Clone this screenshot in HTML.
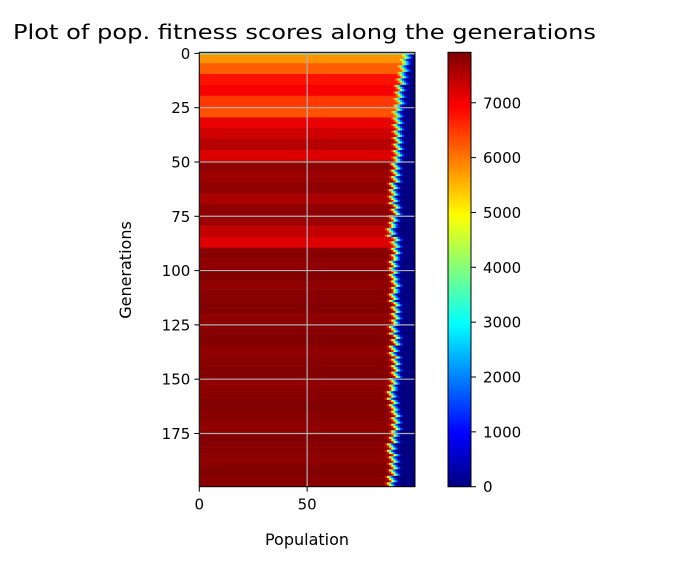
<!DOCTYPE html>
<html><head><meta charset="utf-8"><style>
body{margin:0;background:#fff;width:698px;height:568px;overflow:hidden}
text{font-family:"DejaVu Sans","Liberation Sans",sans-serif;fill:#000}
</style></head><body>
<svg id="chart" width="698" height="568" xmlns="http://www.w3.org/2000/svg">
<text x="13" y="39" font-size="20" textLength="583" lengthAdjust="spacingAndGlyphs">Plot of pop. fitness scores along the generations</text>
<g id="heat"></g>
<g id="grid"></g>
<rect x="199.3" y="52.3" width="215.7" height="434.4" fill="none" stroke="#000" stroke-width="1"/>
<g id="axes"></g>
<text x="307" y="545" font-size="16" text-anchor="middle">Population</text>
<text transform="translate(131,270) rotate(-90)" font-size="16" text-anchor="middle">Generations</text>
<g id="cbar"></g>
</svg>
<script>
// 40 blocks of 5 generations each
const blockLevels=[5800,6200,6800,7000,6500,6300,7100,7300,7500,7200,7800,7700,7800,7600,7800,7700,7400,7200,7850,7800,7900,7800,7850,7900,7800,7850,7900,7800,7850,7900,7800,7850,7900,7850,7800,7900,7850,7800,7900,7850];
const blockEdges=[99,98,97,96,96,95,95,95,95,95,94,94,93,93,94,93,92,94,94,93,93,94,93,94,94,93,94,93,94,94,93,92,93,94,94,93,92,93,93,92];
const firstRowValue=3800;
const xTicks=[0,50];
const yTicks=[0,25,50,75,100,125,150,175];
const cbTicks=[0,1000,2000,3000,4000,5000,6000,7000];
const nGen=200,nPop=100,vmin=0,vmax=7920;
const PX0=199.3,PX1=415,PY0=52.3,PY1=486.7,CBX=448,CBW=23;
const cw=(PX1-PX0)/nPop,rh=(PY1-PY0)/nGen;
const xs=c=>PX0+c*cw, ys=r=>PY0+r*rh;
const cy=v=>PY1-(v-vmin)/(vmax-vmin)*(PY1-PY0);
function jet(t){t=Math.max(0,Math.min(1,t));
 const f=x=>Math.round(255*Math.max(0,Math.min(1,1.5-Math.abs(4*t-x))));
 return `rgb(${f(3)},${f(2)},${f(1)})`;}
const col=v=>jet((v-vmin)/(vmax-vmin));
const NS="http://www.w3.org/2000/svg";
function mk(tag,attrs,parent){const e=document.createElementNS(NS,tag);for(const k in attrs)e.setAttribute(k,attrs[k]);parent.appendChild(e);return e;}
const heat=document.getElementById('heat');
for(let r=0;r<nGen;r++){
 const b=Math.floor(r/5);const lv=blockLevels[b];const ed=Math.min(nPop,blockEdges[b]+((r*7)%3-1));
 if(r===0){const e=mk('rect',{x:xs(0),y:ys(0),width:(PX1-PX0),height:rh+0.3,fill:col(firstRowValue)},heat);
  continue;}
 const tw=5,start=ed-tw;
 let e=mk('rect',{x:xs(0),y:ys(r),width:start*cw+0.3,height:rh+0.3,fill:col(lv)},heat);
 
 for(let c=start;c<ed;c++){const v=lv*(1-(c-start+0.5)/tw)**1.3;
  e=mk('rect',{x:xs(c),y:ys(r),width:cw+0.3,height:rh+0.3,fill:col(v)},heat);
  }
 e=mk('rect',{x:xs(ed),y:ys(r),width:Math.max(0,(nPop-ed)*cw),height:rh+0.3,fill:col(0)},heat);
 
}
const grid=document.getElementById('grid'),axes=document.getElementById('axes');
xTicks.forEach(t=>{const x=xs(t);
 let e=mk('line',{x1:x,x2:x,y1:PY0,y2:PY1,stroke:'#b0b0b0','stroke-width':1.2},grid);
 
 e=mk('line',{x1:x,x2:x,y1:PY1,y2:PY1+5,stroke:'#000'},axes);
 
 e=mk('text',{x:x,y:PY1+23,'font-size':15,'text-anchor':'middle'},axes);e.textContent=t;
 });
yTicks.forEach(t=>{const y=ys(t)+rh/2;
 let e=mk('line',{x1:PX0,x2:PX1,y1:y,y2:y,stroke:'#b0b0b0','stroke-width':1.2},grid);
 
 e=mk('line',{x1:PX0-5,x2:PX0,y1:y,y2:y,stroke:'#000'},axes);
 
 e=mk('text',{x:PX0-9,y:y+5.5,'font-size':15,'text-anchor':'end'},axes);e.textContent=t;
 });
const cb=document.getElementById('cbar');
for(let i=0;i<200;i++){const v0=vmin+(vmax-vmin)*i/200,v1=vmin+(vmax-vmin)*(i+1)/200;
 const e=mk('rect',{x:CBX,y:cy(v1),width:CBW,height:cy(v0)-cy(v1)+0.4,fill:col((v0+v1)/2)},cb);
 }
let fr=mk('rect',{x:CBX,y:PY0,width:CBW,height:PY1-PY0,fill:'none',stroke:'#000'},cb);

cbTicks.forEach(t=>{const y=cy(t);
 let e=mk('line',{x1:CBX+CBW,x2:CBX+CBW+5,y1:y,y2:y,stroke:'#000'},cb);
 
 e=mk('text',{x:CBX+CBW+12,y:y+5.5,'font-size':15},cb);e.textContent=t;
 });
</script>
</body></html>
